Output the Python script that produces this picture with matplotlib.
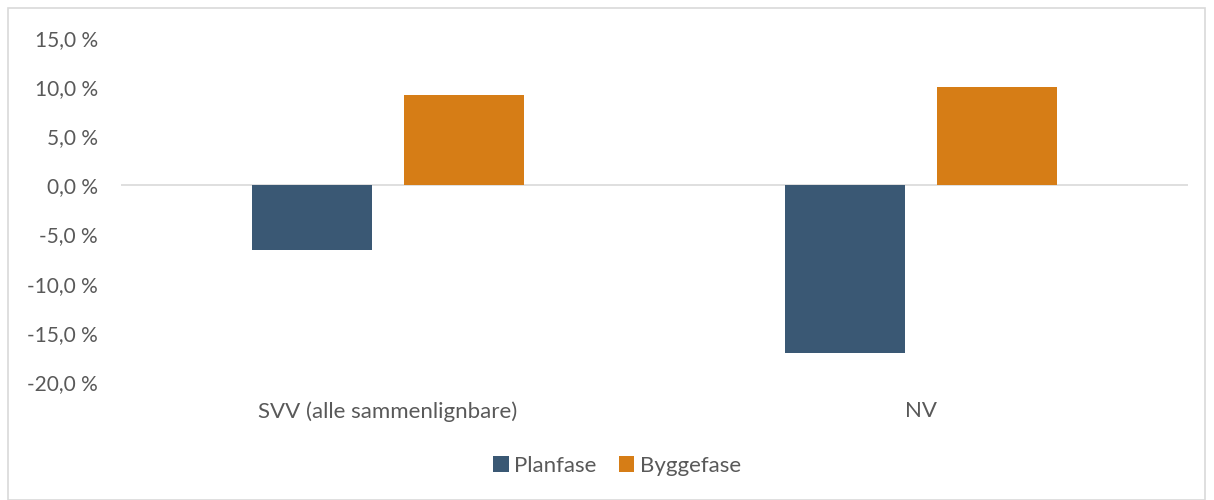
import matplotlib.pyplot as plt
from matplotlib.patches import Rectangle
import numpy as np

kategorier = ['SVV (alle sammenlignbare)', 'NV']
planfase = [-6.6, -17.0]
byggefase = [9.2, 10.0]
y_ticks = [-20, -15, -10, -5, 0, 5, 10, 15]

plt.rcParams['font.family'] = ['Lato', 'DejaVu Sans']

fig = plt.figure(figsize=(12.14, 5.0), dpi=100)
ax = fig.add_axes([121 / 1214, 1 - 382 / 500, (1188 - 121) / 1214, 344 / 500])

x = np.arange(len(kategorier))
b = 0.225
gap = 0.06
ax.bar(x - (b + gap) / 2, planfase, width=b, color='#3A5874', label='Planfase')
ax.bar(x + (b + gap) / 2, byggefase, width=b, color='#D67D16', label='Byggefase')

ax.set_xlim(-0.5, 1.5)
ax.set_ylim(-20, 15)
ax.set_yticks(y_ticks)
ax.set_yticklabels([f'{v:.1f} %'.replace('.', ',') for v in y_ticks])
ax.axhline(0, color='#D9D9D9', lw=1.2, zorder=0)
ax.set_xticks(x)
ax.set_xticklabels(kategorier)

for s in ax.spines.values():
    s.set_visible(False)
ax.tick_params(axis='both', length=0, colors='#595959')
ax.tick_params(axis='y', pad=16.5, labelsize=15)
ax.tick_params(axis='x', pad=14, labelsize=16)

fig.legend(loc='center', bbox_to_anchor=(617 / 1214, 1 - 466 / 500), ncol=2,
           frameon=False, fontsize=16, labelcolor='#595959',
           handlelength=0.7, handleheight=0.7, handletextpad=0.25, columnspacing=1.0)

fig.patches.append(Rectangle((8 / 1214, 0), 1197 / 1214, 1 - 8 / 500,
                             transform=fig.transFigure, fill=False,
                             edgecolor='#D9D9D9', lw=1.2))

fig.savefig('out.png', dpi=100)
